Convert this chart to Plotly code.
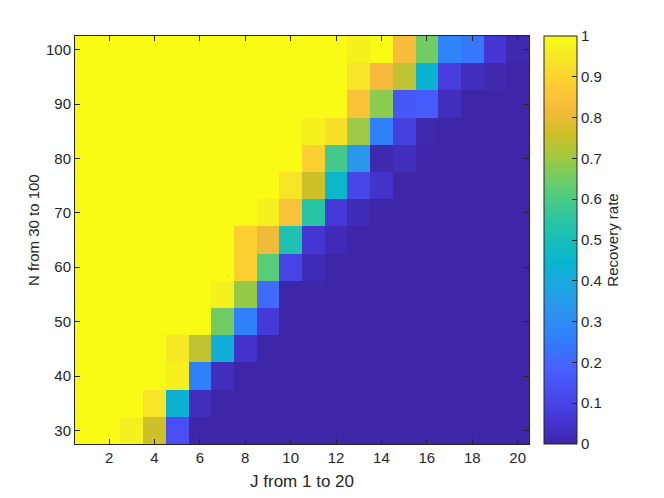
import plotly.graph_objects as go

# J on the x axis, N on the y axis (one heatmap row per N value)
j_values = list(range(1, 21))
n_values = list(range(30, 101, 5))

# recovery rate per row, J = 1..20
rate_n30 = [1, 1, 0.97, 0.76, 0.13] + [0] * 15
rate_n35 = [1, 1, 1, 0.94, 0.43, 0.03] + [0] * 14
rate_n40 = [1, 1, 1, 1, 0.97, 0.27, 0.03] + [0] * 13
rate_n45 = [1, 1, 1, 1, 0.95, 0.74, 0.42, 0.05] + [0] * 12
rate_n50 = [1, 1, 1, 1, 1, 1, 0.65, 0.27, 0.07] + [0] * 11
rate_n55 = [1, 1, 1, 1, 1, 1, 0.97, 0.69, 0.21, 0] + [0] * 10
rate_n60 = [1, 1, 1, 1, 1, 1, 1, 0.89, 0.62, 0.10, 0.02] + [0] * 9
rate_n65 = [1, 1, 1, 1, 1, 1, 1, 0.89, 0.81, 0.52, 0.06, 0.02] + [0] * 8
rate_n70 = [1, 1, 1, 1, 1, 1, 1, 1, 0.97, 0.85, 0.54, 0.07, 0.02] + [0] * 7
rate_n75 = [1] * 9 + [0.94, 0.76, 0.46, 0.11, 0.05] + [0] * 6
rate_n80 = [1] * 10 + [0.89, 0.59, 0.34, 0.01, 0.03] + [0] * 5
rate_n85 = [1] * 10 + [0.97, 0.93, 0.70, 0.27, 0.09, 0.01] + [0] * 4
rate_n90 = [1] * 12 + [0.85, 0.68, 0.16, 0.17, 0.03, 0, 0, 0]
rate_n95 = [1] * 12 + [0.94, 0.82, 0.74, 0.44, 0.08, 0.03, 0.01, 0]
rate_n100 = [1] * 12 + [0.97, 1, 0.83, 0.65, 0.28, 0.24, 0.06, 0.01]

x_ticks = list(range(2, 21, 2))
y_ticks = list(range(30, 101, 10))
cbar_ticks = [i / 10 for i in range(11)]
cbar_text = ["0", "0.1", "0.2", "0.3", "0.4", "0.5", "0.6", "0.7", "0.8", "0.9", "1"]

# MATLAB parula (R2014b), every 4th entry of the 64-colour map
_PARULA = [
    [0 / 63, "#3E26A8"], [4 / 63, "#4537D5"], [8 / 63, "#484DF0"],
    [12 / 63, "#4563FD"], [16 / 63, "#327CFC"], [20 / 63, "#2B91EF"],
    [24 / 63, "#20A5E3"], [28 / 63, "#08B5D0"], [32 / 63, "#19BFB6"],
    [36 / 63, "#37C897"], [40 / 63, "#64CD6F"], [44 / 63, "#9DC943"],
    [48 / 63, "#D1BF27"], [52 / 63, "#F8BA3D"], [56 / 63, "#FCCF30"],
    [60 / 63, "#F5E924"], [63 / 63, "#F9FB15"],
]

_AX = "#262626"
_FONT = "Liberation Sans, Arial, sans-serif"

z = [rate_n30, rate_n35, rate_n40, rate_n45, rate_n50, rate_n55, rate_n60,
     rate_n65, rate_n70, rate_n75, rate_n80, rate_n85, rate_n90, rate_n95,
     rate_n100]

fig = go.Figure(go.Heatmap(
    x=j_values,
    y=n_values,
    z=z,
    zmin=0,
    zmax=1,
    colorscale=_PARULA,
    colorbar=dict(
        x=1.033, xanchor="left", xpad=0, ypad=0,
        y=0.5, yanchor="middle", len=1, lenmode="fraction",
        thickness=33,
        outlinecolor=_AX, outlinewidth=1,
        ticks="inside", ticklen=5, tickcolor=_AX,
        tickvals=cbar_ticks, ticktext=cbar_text,
        tickfont=dict(size=15, color=_AX),
        title=dict(text="Recovery rate", side="right",
                   font=dict(size=15, color=_AX)),
    ),
    hovertemplate="J=%{x}<br>N=%{y}<br>rate=%{z}<extra></extra>",
))

# the page body adds an 8px offset, so margins are shifted to compensate
fig.update_layout(
    width=664,
    height=498,
    margin=dict(l=67, r=143, t=28, b=62, autoexpand=False),
    paper_bgcolor="white",
    plot_bgcolor="white",
    font=dict(family=_FONT, color=_AX),
    xaxis=dict(
        range=[0.5, 20.5],
        tickvals=x_ticks,
        ticks="inside", ticklen=5, tickcolor=_AX,
        showline=True, linecolor=_AX, linewidth=1, mirror="allticks",
        showgrid=False, zeroline=False,
        tickfont=dict(size=15, color=_AX),
        title=dict(text="J from 1 to 20", font=dict(size=17, color=_AX), standoff=10),
    ),
    yaxis=dict(
        range=[27.5, 102.5],
        tickvals=y_ticks,
        ticks="inside", ticklen=5, tickcolor=_AX,
        showline=True, linecolor=_AX, linewidth=1, mirror="allticks",
        showgrid=False, zeroline=False,
        tickfont=dict(size=15, color=_AX),
    ),
)

# y label sits a little above the axis centre in the original
fig.add_annotation(
    text="N from 30 to 100",
    xref="paper", yref="paper",
    x=-0.0925, y=0.5245,
    xanchor="center", yanchor="middle",
    textangle=-90,
    showarrow=False,
    font=dict(size=15, color=_AX),
)

fig.write_html("out.html")
